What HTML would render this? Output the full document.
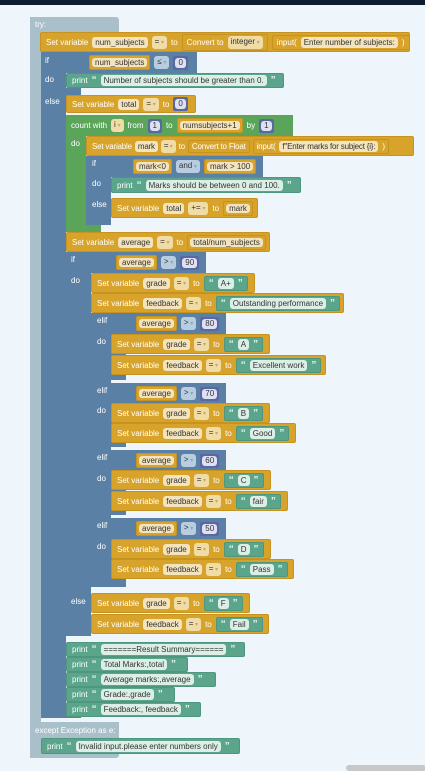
<!DOCTYPE html>
<html><head><meta charset="utf-8"><style>
body{margin:0;width:425px;height:768px;background:#eef6fc;position:relative;overflow:hidden;font-family:"Liberation Sans",sans-serif}
.a{position:absolute;box-sizing:border-box}
.b{position:absolute;box-sizing:border-box;display:flex;align-items:center;gap:4px;font-size:8px;color:#fff;padding-left:5px;white-space:nowrap;border-radius:2px}
.g{background:#d8a32a;border:1px solid #c79320}
.bl{background:#5b80a5}
.gr{background:#5ba55b}
.t{background:#5ba58c;border:1px solid #4f967e}
.tr{background:#a9c0cb}
.f{background:#f3e4bd;color:#333;border-radius:3px;padding:0 3px;line-height:11px}
.d{background:#f0dca6;color:#333;border-radius:3px;padding:0 3px;line-height:11px}
.d::after{content:" ▾";color:#c9a860;font-size:6px}
.db{background:#b9cde0;color:#333;border-radius:3px;padding:0 3px;line-height:11px}
.db::after{content:" ▾";color:#8aa;font-size:6px}
.s{background:#dcefe6;color:#333;border-radius:3px;padding:0 3px;line-height:11px}
.q{color:#e8f5ee;font-weight:bold;font-size:10px}
.n{background:#5b67a5;padding:2px 2px;border-radius:2px;display:inline-flex}
.n span{background:#dde1f2;color:#333;border-radius:3px;padding:0 3px;line-height:10px}
.in{border:1px solid #c79320;padding:1px 4px;border-radius:2px;display:inline-flex;gap:4px;align-items:center}
.gd{background:#d8a32a;padding:1px 2px;border:1px solid #c79320;border-radius:2px}
.lb{position:absolute;font-size:8px;color:#fff}
</style></head><body>
<div class="a" style="left:0;top:0;width:425px;height:5px;background:#0d1d30"></div>
<div class="a" style="left:346px;top:765px;width:80px;height:6px;background:#c8c8c8;border-radius:4px"></div>

<div class="a tr" style="left:30px;top:17px;width:89px;height:16px;border-radius:3px 3px 0 0"></div>
<div class="a tr" style="left:30px;top:17px;width:11px;height:741px"></div>
<div class="a tr" style="left:30px;top:722px;width:89px;height:36px;border-radius:0 0 3px 3px"></div>
<div class="lb" style="left:35px;top:20px">try:</div>
<div class="lb" style="left:35px;top:726px">except Exception as e:</div>

<div class="a bl" style="left:41px;top:52px;width:156px;height:21px"></div>
<div class="a bl" style="left:41px;top:52px;width:25px;height:666px;border-radius:0 0 0 3px"></div>
<div class="a bl" style="left:41px;top:88px;width:40px;height:8px"></div>
<div class="a bl" style="left:41px;top:712px;width:40px;height:6px"></div>
<div class="lb" style="left:45px;top:56px">if</div>
<div class="lb" style="left:45px;top:75px">do</div>
<div class="lb" style="left:45px;top:97px">else</div>
<div class="b" style="left:84px;top:55px;gap:4px"><span class="gd"><span class="f">num_subjects</span></span><span class="db">≤</span><span class="n"><span>0</span></span></div>

<div class="b g" style="left:40px;top:32px;width:370px;height:20px">Set variable <span class="f">num_subjects</span><span class="d">=</span>to <span class="in">Convert to <span class="d">integer</span></span><span class="in">input( <span class="f">Enter number of subjects: </span>)</span></div>

<div class="b t" style="left:66px;top:73px;width:218px;height:15px">print <span class="q">“</span><span class="s">Number of subjects should be greater than 0.</span><span class="q">”</span></div>

<div class="b g" style="left:66px;top:95px;width:130px;height:18px">Set variable <span class="f">total</span><span class="d">=</span>to <span class="n"><span>0</span></span></div>

<div class="a gr" style="left:66px;top:115px;width:227px;height:21px"></div>
<div class="a gr" style="left:66px;top:115px;width:20px;height:117px"></div>
<div class="a gr" style="left:66px;top:225px;width:35px;height:7px"></div>
<div class="b" style="left:66px;top:117px;height:17px">count with <span class="d">i</span> from <span class="n"><span>1</span></span> to <span class="gd"><span class="f">numsubjects+1</span></span> by <span class="n"><span>1</span></span></div>
<div class="lb" style="left:71px;top:139px">do</div>

<div class="b g" style="left:86px;top:136px;width:328px;height:20px;gap:3px;letter-spacing:-0.2px;overflow:hidden">Set variable <span class="f">mark</span><span class="d">=</span>to <span class="in" style="padding:1px 3px">Convert to Float</span><span class="in" style="padding:1px 3px">input( <span class="f">f"Enter marks for subject {i}: </span>)</span></div>

<div class="a bl" style="left:86px;top:156px;width:177px;height:21px"></div>
<div class="a bl" style="left:86px;top:156px;width:25px;height:69px"></div>
<div class="lb" style="left:92px;top:159px">if</div>
<div class="lb" style="left:92px;top:179px">do</div>
<div class="lb" style="left:92px;top:200px">else</div>
<div class="b" style="left:128px;top:159px"><span class="gd"><span class="f">mark&lt;0</span></span><span class="db">and</span><span class="gd"><span class="f">mark &gt; 100</span></span></div>
<div class="b t" style="left:111px;top:177px;width:190px;height:16px">print <span class="q">“</span><span class="s">Marks should be between 0 and 100.</span><span class="q">”</span></div>
<div class="b g" style="left:111px;top:198px;width:147px;height:20px">Set variable <span class="f">total</span><span class="d">+=</span>to <span class="gd"><span class="f">mark</span></span></div>

<div class="b g" style="left:66px;top:232px;width:204px;height:20px">Set variable <span class="f">average</span><span class="d">=</span>to <span class="gd"><span class="f">total/num_subjects</span></span></div>

<div class="a bl" style="left:66px;top:252px;width:140px;height:21px"></div>
<div class="a bl" style="left:66px;top:252px;width:25px;height:384px"></div>
<div class="lb" style="left:71px;top:255px">if</div>
<div class="lb" style="left:71px;top:276px">do</div>
<div class="lb" style="left:71px;top:597px">else</div>
<div class="b" style="left:111px;top:255px"><span class="gd"><span class="f">average</span></span><span class="db">&gt;</span><span class="n"><span>90</span></span></div>
<div class="b g" style="left:91px;top:273px;width:164px;height:20px">Set variable <span class="f">grade</span><span class="d">=</span>to <span class="b t" style="position:static;padding:1px 4px"><span class="q">“</span><span class="s">A+</span><span class="q">”</span></span></div>
<div class="b g" style="left:91px;top:293px;width:253px;height:20px">Set variable <span class="f">feedback</span><span class="d">=</span>to <span class="b t" style="position:static;padding:1px 4px"><span class="q">“</span><span class="s">Outstanding performance</span><span class="q">”</span></span></div>

<div class="a bl" style="left:91px;top:313px;width:35px;height:274px"></div>
<div class="a bl" style="left:91px;top:313px;width:135px;height:21px"></div>
<div class="a bl" style="left:91px;top:383px;width:135px;height:21px"></div>
<div class="a bl" style="left:91px;top:450px;width:135px;height:21px"></div>
<div class="a bl" style="left:91px;top:518px;width:135px;height:21px"></div>
<div class="a" style="left:91px;top:380px;width:35px;height:3px;background:#eef6fc"></div>
<div class="a" style="left:91px;top:447px;width:35px;height:3px;background:#eef6fc"></div>
<div class="a" style="left:91px;top:515px;width:35px;height:3px;background:#eef6fc"></div>
<div class="a bl" style="left:91px;top:313px;width:20px;height:274px"></div>

<div class="lb" style="left:97px;top:316px">elif</div><div class="lb" style="left:97px;top:337px">do</div>
<div class="lb" style="left:97px;top:386px">elif</div><div class="lb" style="left:97px;top:406px">do</div>
<div class="lb" style="left:97px;top:453px">elif</div><div class="lb" style="left:97px;top:474px">do</div>
<div class="lb" style="left:97px;top:521px">elif</div><div class="lb" style="left:97px;top:542px">do</div>

<div class="b" style="left:131px;top:316px"><span class="gd"><span class="f">average</span></span><span class="db">&gt;</span><span class="n"><span>80</span></span></div>
<div class="b g" style="left:111px;top:334px;width:159px;height:20px">Set variable <span class="f">grade</span><span class="d">=</span>to <span class="b t" style="position:static;padding:1px 4px"><span class="q">“</span><span class="s">A</span><span class="q">”</span></span></div>
<div class="b g" style="left:111px;top:355px;width:215px;height:20px">Set variable <span class="f">feedback</span><span class="d">=</span>to <span class="b t" style="position:static;padding:1px 4px"><span class="q">“</span><span class="s">Excellent work</span><span class="q">”</span></span></div>

<div class="b" style="left:131px;top:386px"><span class="gd"><span class="f">average</span></span><span class="db">&gt;</span><span class="n"><span>70</span></span></div>
<div class="b g" style="left:111px;top:403px;width:159px;height:20px">Set variable <span class="f">grade</span><span class="d">=</span>to <span class="b t" style="position:static;padding:1px 4px"><span class="q">“</span><span class="s">B</span><span class="q">”</span></span></div>
<div class="b g" style="left:111px;top:423px;width:185px;height:20px">Set variable <span class="f">feedback</span><span class="d">=</span>to <span class="b t" style="position:static;padding:1px 4px"><span class="q">“</span><span class="s">Good</span><span class="q">”</span></span></div>

<div class="b" style="left:131px;top:453px"><span class="gd"><span class="f">average</span></span><span class="db">&gt;</span><span class="n"><span>60</span></span></div>
<div class="b g" style="left:111px;top:470px;width:160px;height:20px">Set variable <span class="f">grade</span><span class="d">=</span>to <span class="b t" style="position:static;padding:1px 4px"><span class="q">“</span><span class="s">C</span><span class="q">”</span></span></div>
<div class="b g" style="left:111px;top:491px;width:177px;height:20px">Set variable <span class="f">feedback</span><span class="d">=</span>to <span class="b t" style="position:static;padding:1px 4px"><span class="q">“</span><span class="s">fair</span><span class="q">”</span></span></div>

<div class="b" style="left:131px;top:521px"><span class="gd"><span class="f">average</span></span><span class="db">&gt;</span><span class="n"><span>50</span></span></div>
<div class="b g" style="left:111px;top:539px;width:160px;height:20px">Set variable <span class="f">grade</span><span class="d">=</span>to <span class="b t" style="position:static;padding:1px 4px"><span class="q">“</span><span class="s">D</span><span class="q">”</span></span></div>
<div class="b g" style="left:111px;top:559px;width:183px;height:20px">Set variable <span class="f">feedback</span><span class="d">=</span>to <span class="b t" style="position:static;padding:1px 4px"><span class="q">“</span><span class="s">Pass</span><span class="q">”</span></span></div>

<div class="b g" style="left:91px;top:593px;width:159px;height:20px">Set variable <span class="f">grade</span><span class="d">=</span>to <span class="b t" style="position:static;padding:1px 4px"><span class="q">“</span><span class="s">F</span><span class="q">”</span></span></div>
<div class="b g" style="left:91px;top:614px;width:178px;height:20px">Set variable <span class="f">feedback</span><span class="d">=</span>to <span class="b t" style="position:static;padding:1px 4px"><span class="q">“</span><span class="s">Fail</span><span class="q">”</span></span></div>

<div class="b t" style="left:66px;top:642px;width:179px;height:15px">print <span class="q">“</span><span class="s">=======Result Summary======</span><span class="q">”</span></div>
<div class="b t" style="left:66px;top:657px;width:122px;height:15px">print <span class="q">“</span><span class="s">Total Marks:,total</span><span class="q">”</span></div>
<div class="b t" style="left:66px;top:672px;width:150px;height:15px">print <span class="q">“</span><span class="s">Average marks:,average </span><span class="q">”</span></div>
<div class="b t" style="left:66px;top:687px;width:109px;height:15px">print <span class="q">“</span><span class="s">Grade:,grade</span><span class="q">”</span></div>
<div class="b t" style="left:66px;top:702px;width:135px;height:15px">print <span class="q">“</span><span class="s">Feedback:, feedback</span><span class="q">”</span></div>

<div class="b t" style="left:41px;top:738px;width:199px;height:16px">print <span class="q">“</span><span class="s">Invalid input.please enter numbers only</span><span class="q">”</span></div>
</body></html>
